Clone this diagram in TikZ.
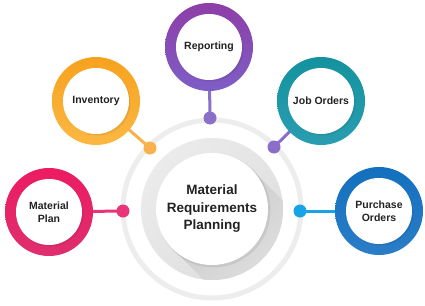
\documentclass[tikz,border=0pt]{standalone}
\usepackage{fontspec}
\setmainfont{Liberation Sans}
\pgfdeclarelayer{bg}
\pgfdeclarelayer{conn}
\pgfsetlayers{bg,conn,main}
\definecolor{txt}{HTML}{222222}
\definecolor{pale}{HTML}{EDEDED}
\definecolor{greyA}{HTML}{EBEBEB}
\definecolor{greyB}{HTML}{DEDEDE}
\definecolor{shA}{HTML}{C8C8C8}
\definecolor{shB}{HTML}{E4E4E4}
\definecolor{pinkA}{HTML}{EC1B62}
\definecolor{pinkB}{HTML}{DF2F6E}
\definecolor{pinkD}{HTML}{E8347A}
\definecolor{orA}{HTML}{F7A21E}
\definecolor{orB}{HTML}{FBB843}
\definecolor{orD}{HTML}{F8B24C}
\definecolor{puA}{HTML}{8E3EA7}
\definecolor{puB}{HTML}{7D5EC6}
\definecolor{puD}{HTML}{8A70C9}
\definecolor{teA}{HTML}{13939E}
\definecolor{teB}{HTML}{2A9DB1}
\definecolor{teD}{HTML}{8B6EC8}
\definecolor{blA}{HTML}{1370BE}
\definecolor{blB}{HTML}{2B7DC7}
\definecolor{blD}{HTML}{17A3E6}
\tikzset{
  item/.style={circle, fill=white, minimum size=66pt, inner sep=0pt, align=center,
    text=txt, font=\bfseries\fontsize{10.5}{12.5}\selectfont},
  hub/.style={circle, fill=white, minimum size=112pt, inner sep=0pt, align=center,
    text=txt, font=\bfseries\fontsize{13.5}{17.5}\selectfont},
  dotnode/.style={circle, minimum size=13pt, inner sep=0pt},
  link/.style={line width=3pt},
  softshadow/.style={fill=black, opacity=0.07}
}
\begin{document}
\begin{tikzpicture}[x=1pt,y=-1pt]
\useasboundingbox (0,0) rectangle (425,305);
\begin{pgfonlayer}{bg}
  \fill[white] (0,0) rectangle (425,305);
  \draw[pale, line width=5pt] (212,209) circle[radius=89pt];
  \shade[top color=greyA, bottom color=greyB, shading angle=45] (212,209) circle[radius=71pt];
  \begin{scope}
    \clip (212,209) circle[radius=71pt];
    \shade[top color=shA, bottom color=shB, shading angle=45]
      (251.6,169.4) -- (311.6,229.4) -- (232.4,308.6) -- (172.4,248.6) -- cycle;
  \end{scope}
  \fill[softshadow] (213.5,210.5) circle[radius=57pt];
\end{pgfonlayer}

% hub
\node[hub] (mrp) at (212,209) {Material\\Requirements\\Planning};

% Material Plan
\shade[top color=pinkA, bottom color=pinkB] (49,212) circle[radius=44pt];
\fill[softshadow] (50.5,213.5) circle[radius=33pt];
\node[item] (mp) at (49,212) {Material\\Plan};
\node[dotnode, fill=pinkD] (mpd) at (123,211) {};

% Inventory
\shade[top color=orA, bottom color=orB] (96,101) circle[radius=44pt];
\fill[softshadow] (97.5,102.5) circle[radius=33pt];
\node[item] (inv) at (96,101) {Inventory};
\node[dotnode, fill=orD] (invd) at (150,148) {};

% Reporting
\shade[top color=puA, bottom color=puB] (209,47) circle[radius=44pt];
\fill[softshadow] (210.5,48.5) circle[radius=33pt];
\node[item] (rep) at (209,47) {Reporting};
\node[dotnode, fill=puD] (repd) at (210,118) {};

% Job Orders
\shade[top color=teA, bottom color=teB] (321,101) circle[radius=44pt];
\fill[softshadow] (322.5,102.5) circle[radius=33pt];
\node[item] (job) at (321,101) {Job Orders};
\node[dotnode, fill=teD] (jobd) at (274,147) {};

% Purchase Orders
\shade[top color=blA, bottom color=blB] (379,211) circle[radius=44pt];
\fill[softshadow] (380.5,212.5) circle[radius=33pt];
\node[item] (po) at (379,211) {Purchase\\Orders};
\node[dotnode, fill=blD] (pod) at (300,211) {};

\begin{pgfonlayer}{conn}
  \draw[link, pinkD] (mp) -- (mpd.center);
  \draw[link, orD] (inv) -- (invd.center);
  \draw[link, puD] (rep) -- (repd.center);
  \draw[link, teD] (job) -- (jobd.center);
  \draw[link, blD] (po) -- (pod.center);
\end{pgfonlayer}
\end{tikzpicture}
\end{document}
